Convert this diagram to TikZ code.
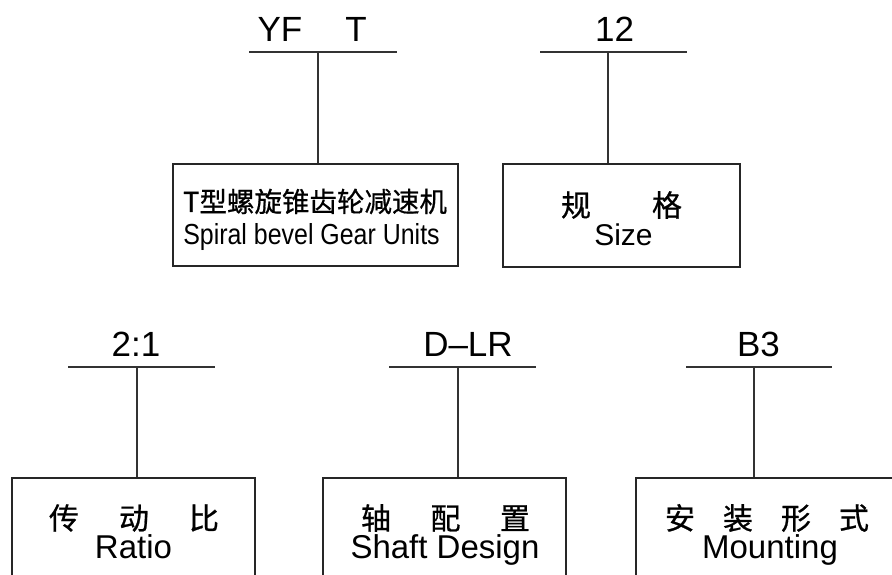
\documentclass[tikz,border=0pt]{standalone}
\usepackage{fontspec}
\setmainfont{Liberation Sans}
\newfontfamily\cjk[FakeBold=0.7]{Noto Sans CJK SC}
\newfontfamily\narrow[FakeStretch=0.86]{Liberation Sans}
\begin{document}
\begin{tikzpicture}[x=1pt,y=-1pt,
  frame/.style={draw=black!85,line width=1.3pt,inner sep=0pt,rectangle},
  bar/.style={draw=black!80,line width=1.4pt},
  stem/.style={draw=black!80,line width=1.2pt},
  code/.style={inner sep=0pt,anchor=base,font=\fontsize{35}{40}\selectfont},
  cn/.style={inner sep=0pt,anchor=center,font=\cjk\fontsize{30}{32}\selectfont},
  en/.style={inner sep=0pt,anchor=base,font=\fontsize{33}{36}\selectfont}]
\useasboundingbox (0,0) rectangle (892,575);
\clip (0,0) rectangle (892,575);
\fill[white] (0,0) rectangle (892,575);

% ---- top row ----
\node[code] (yf) at (280,42) {YF};
\node[code] (t) at (356,42) {T};
\coordinate (bar1l) at (249,52);
\coordinate (bar1r) at (397,52);
\coordinate (s1) at (318,52);
\draw[bar] (bar1l) -- (bar1r);
\node[frame,minimum width=285pt,minimum height=102pt] (b1) at (315.5,215) {};
\draw[stem] (s1) -- (s1 |- b1.north);
\node[inner sep=0pt,anchor=center,font=\cjk\fontsize{27.5}{30}\selectfont] (b1cn) at (315,201.5) {T型螺旋锥齿轮减速机};
\node[inner sep=0pt,anchor=base,font=\narrow\fontsize{29}{32}\selectfont] (b1en) at (311.5,244) {Spiral bevel Gear Units};

\node[code] (n12) at (614.5,42) {12};
\coordinate (bar2l) at (540,52);
\coordinate (bar2r) at (687,52);
\coordinate (s2) at (608,52);
\draw[bar] (bar2l) -- (bar2r);
\node[frame,minimum width=237pt,minimum height=103pt] (b2) at (621.5,215.5) {};
\draw[stem] (s2) -- (s2 |- b2.north);
\node[cn] (b2cn) at (621.5,205) {\makebox[91pt]{规}\makebox[91pt]{格}};
\node[en,font=\fontsize{30}{33}\selectfont] (b2en) at (623.5,245) {Size};

% ---- bottom row ----
\node[code] (r) at (136,356) {2:1};
\coordinate (bar3l) at (68,367);
\coordinate (bar3r) at (215,367);
\coordinate (s3) at (137,367);
\draw[bar] (bar3l) -- (bar3r);
\node[frame,minimum width=243pt,minimum height=140pt] (b3) at (133.5,548) {};
\draw[stem] (s3) -- (s3 |- b3.north);
\node[cn] (b3cn) at (134,518) {\makebox[70pt]{传}\makebox[70pt]{动}\makebox[70pt]{比}};
\node[en] (b3en) at (133.5,558) {Ratio};

\node[code] (d) at (468,356) {D–LR};
\coordinate (bar4l) at (389,367);
\coordinate (bar4r) at (536,367);
\coordinate (s4) at (458,367);
\draw[bar] (bar4l) -- (bar4r);
\node[frame,minimum width=243pt,minimum height=140pt] (b4) at (444.5,548) {};
\draw[stem] (s4) -- (s4 |- b4.north);
\node[cn] (b4cn) at (445.5,518) {\makebox[69.5pt]{轴}\makebox[69.5pt]{配}\makebox[69.5pt]{置}};
\node[en] (b4en) at (445,558) {Shaft Design};

\node[code] (m) at (758.5,356) {B3};
\coordinate (bar5l) at (686,367);
\coordinate (bar5r) at (832,367);
\coordinate (s5) at (754,367);
\draw[bar] (bar5l) -- (bar5r);
\node[frame,minimum width=300pt,minimum height=140pt] (b5) at (786,548) {};
\draw[stem] (s5) -- (s5 |- b5.north);
\node[cn] (b5cn) at (767,518) {\makebox[58pt]{安}\makebox[58pt]{装}\makebox[58pt]{形}\makebox[58pt]{式}};
\node[en] (b5en) at (770,558) {Mounting};
\end{tikzpicture}
\end{document}
